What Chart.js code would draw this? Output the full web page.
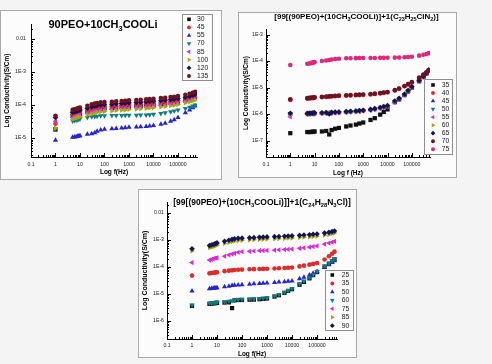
<!DOCTYPE html>
<html><head><meta charset="utf-8">
<script src="https://cdn.jsdelivr.net/npm/chart.js@4.4.1/dist/chart.umd.min.js"></script>
<style>
html,body{margin:0;padding:0;}
body{width:492px;height:364px;overflow:hidden;background:#f4f4f4;position:relative;}
.panel{position:absolute;box-sizing:border-box;border:1px solid #a9a9a9;background:#fcfcfc;}
canvas{position:absolute;}
</style></head><body>
<div class="panel" style="left:0px;top:10px;width:222px;height:170px"></div>
<div class="panel" style="left:238px;top:12px;width:219px;height:166px"></div>
<div class="panel" style="left:138px;top:189px;width:219px;height:169px"></div>
<canvas id="c1" width="222" height="170" style="left:0px;top:10px;width:222px;height:170px"></canvas>
<canvas id="c2" width="219" height="166" style="left:238px;top:12px;width:219px;height:166px"></canvas>
<canvas id="c3" width="219" height="169" style="left:138px;top:189px;width:219px;height:169px"></canvas>
<script>
// ---------- shared x (frequency, Hz) ----------
const freqHz = [1, 5,6,7,8,9,10, 20,30,40,50,70,100, 200,300,500,700,1000, 2000,3000,5000,7000,10000, 20000,30000,50000,70000,100000, 200000,300000,400000,500000];
const xTickValues = [0.1,1,10,100,1000,10000,100000];
const xTickLabels = ['0.1','1','10','100','1000','10000','100000'];

// ---------- Panel 1: 90PEO+10CH3COOLi ----------
const p1Temps = ['30','45','55','70','85','100','120','135'];
const p1_T30  = [1.8e-5, 4.6e-5,4.8e-5,5.0e-5,5.2e-5,5.3e-5,5.4e-5, 6.1e-5,6.6e-5,7.0e-5,7.3e-5,7.6e-5,7.8e-5, 8.1e-5,8.3e-5,8.5e-5,8.7e-5,8.9e-5, 9.1e-5,9.3e-5,9.6e-5,9.8e-5,1.0e-4, 1.05e-4,1.09e-4,1.14e-4,1.18e-4,1.23e-4, 1.37e-4,1.48e-4,1.58e-4,1.68e-4];
const p1_T45  = [2.7e-5, 5.2e-5,5.5e-5,5.7e-5,5.9e-5,6.0e-5,6.2e-5, 7.0e-5,7.6e-5,8.0e-5,8.4e-5,8.8e-5,9.0e-5, 9.3e-5,9.5e-5,9.8e-5,1.0e-4,1.02e-4, 1.04e-4,1.07e-4,1.1e-4,1.12e-4,1.15e-4, 1.2e-4,1.24e-4,1.3e-4,1.34e-4,1.4e-4, 1.55e-4,1.67e-4,1.78e-4,1.9e-4];
const p1_T55  = [8.5e-6, 1.05e-5,1.07e-5,1.1e-5,1.12e-5,1.14e-5,1.16e-5, 1.3e-5,1.35e-5,1.45e-5,1.6e-5,1.75e-5,1.85e-5, 1.9e-5,1.95e-5,2.0e-5,2.05e-5,2.1e-5, 2.15e-5,2.2e-5,2.25e-5,2.3e-5,2.4e-5, 2.6e-5,2.8e-5,3.2e-5,3.6e-5,4.2e-5, 5.8e-5,7.0e-5,8.2e-5,9.3e-5];
const p1_T70  = [1.9e-5, 3.3e-5,3.4e-5,3.5e-5,3.6e-5,3.7e-5,3.8e-5, 4.2e-5,4.4e-5,4.5e-5,4.6e-5,4.7e-5,4.7e-5, 4.8e-5,4.8e-5,4.8e-5,4.9e-5,4.9e-5, 4.9e-5,5.0e-5,5.0e-5,5.1e-5,5.2e-5, 5.5e-5,5.8e-5,6.2e-5,6.6e-5,7.0e-5, 7.8e-5,8.6e-5,9.3e-5,1.0e-4];
const p1_T85  = [3.2e-5, 4.1e-5,4.3e-5,4.5e-5,4.7e-5,4.8e-5,4.9e-5, 5.6e-5,6.0e-5,6.4e-5,6.7e-5,7.0e-5,7.2e-5, 7.4e-5,7.6e-5,7.8e-5,8.0e-5,8.2e-5, 8.4e-5,8.6e-5,8.8e-5,9.0e-5,9.2e-5, 9.7e-5,1.0e-4,1.05e-4,1.09e-4,1.14e-4, 1.27e-4,1.37e-4,1.46e-4,1.55e-4];
const p1_T100 = [2.0e-5, 3.7e-5,3.9e-5,4.0e-5,4.2e-5,4.3e-5,4.4e-5, 5.0e-5,5.4e-5,5.7e-5,6.0e-5,6.2e-5,6.4e-5, 6.6e-5,6.8e-5,7.0e-5,7.1e-5,7.3e-5, 7.5e-5,7.7e-5,7.9e-5,8.1e-5,8.3e-5, 8.7e-5,9.0e-5,9.5e-5,9.9e-5,1.04e-4, 1.16e-4,1.25e-4,1.34e-4,1.43e-4];
const p1_T120 = [4.2e-5, 6.0e-5,6.3e-5,6.5e-5,6.7e-5,6.9e-5,7.0e-5, 8.0e-5,8.7e-5,9.2e-5,9.6e-5,1.0e-4,1.03e-4, 1.06e-4,1.09e-4,1.12e-4,1.14e-4,1.16e-4, 1.19e-4,1.22e-4,1.25e-4,1.28e-4,1.31e-4, 1.37e-4,1.41e-4,1.47e-4,1.51e-4,1.57e-4, 1.72e-4,1.85e-4,1.98e-4,2.12e-4];
const p1_T135 = [4.7e-5, 7.1e-5,7.4e-5,7.6e-5,7.9e-5,8.1e-5,8.3e-5, 9.5e-5,1.05e-4,1.1e-4,1.15e-4,1.2e-4,1.23e-4, 1.26e-4,1.29e-4,1.32e-4,1.35e-4,1.38e-4, 1.41e-4,1.45e-4,1.48e-4,1.51e-4,1.55e-4, 1.62e-4,1.66e-4,1.74e-4,1.78e-4,1.86e-4, 2.04e-4,2.19e-4,2.34e-4,2.51e-4];
const p1YTickValues = [1e-2,1e-3,1e-4,1e-5];
const p1YTickLabels = ['0.01','1E-3','1E-4','1E-5'];

// ---------- Panel 2: ...+1(C23H25ClN2) ----------
const p2Temps = ['35','40','45','50','55','60','65','70','75'];
const p2_T35 = [1.9e-7, 2.1e-7,2.1e-7,2.1e-7,2.15e-7,2.15e-7,2.2e-7, 2.2e-7,2.3e-7,1.7e-7,2.5e-7,2.8e-7,3.0e-7, 3.4e-7,3.7e-7,4.0e-7,4.4e-7,4.8e-7, 6.0e-7,7.0e-7,9.5e-7,1.2e-6,1.5e-6, 2.8e-6,3.6e-6,5.2e-6,7.2e-6,1.0e-5, 1.75e-5,2.5e-5,3.4e-5,4.4e-5];
const p2_T40 = [3.4e-6, 3.8e-6,3.9e-6,4.0e-6,4.0e-6,4.1e-6,4.1e-6, 4.3e-6,4.4e-6,4.5e-6,4.6e-6,4.7e-6,4.8e-6, 4.9e-6,5.0e-6,5.1e-6,5.2e-6,5.3e-6, 5.5e-6,5.7e-6,6.0e-6,6.3e-6,6.6e-6, 7.8e-6,9.0e-6,1.12e-5,1.32e-5,1.55e-5, 2.3e-5,3.0e-5,3.7e-5,4.4e-5];
const p2_T45 = [1.0e-6, 1.03e-6,1.04e-6,1.05e-6,1.06e-6,1.06e-6,1.07e-6, 1.08e-6,1.1e-6,1.1e-6,1.12e-6,1.14e-6,1.16e-6, 1.2e-6,1.23e-6,1.27e-6,1.3e-6,1.35e-6, 1.45e-6,1.55e-6,1.7e-6,1.85e-6,2.0e-6, 3.0e-6,3.8e-6,5.5e-6,7.5e-6,1.05e-5, 1.8e-5,2.6e-5,3.5e-5,4.5e-5];
const p2_T50 = [1.05e-6, 1.0e-6,1.02e-6,1.03e-6,1.04e-6,1.05e-6,1.06e-6, 1.07e-6,1.08e-6,1.09e-6,1.1e-6,1.12e-6,1.14e-6, 1.18e-6,1.21e-6,1.25e-6,1.28e-6,1.32e-6, 1.42e-6,1.52e-6,1.66e-6,1.8e-6,1.96e-6, 2.9e-6,3.7e-6,5.3e-6,7.3e-6,1.02e-5, 1.75e-5,2.55e-5,3.45e-5,4.4e-5];
const p2_T55 = [7.8e-7, 9.8e-7,1.0e-6,1.01e-6,1.02e-6,1.03e-6,1.04e-6, 1.05e-6,1.07e-6,1.08e-6,1.09e-6,1.11e-6,1.13e-6, 1.17e-6,1.2e-6,1.24e-6,1.27e-6,1.31e-6, 1.4e-6,1.5e-6,1.64e-6,1.78e-6,1.94e-6, 2.85e-6,3.65e-6,5.2e-6,7.2e-6,1.0e-5, 1.72e-5,2.5e-5,3.4e-5,4.35e-5];
const p2_T60 = [9.5e-7, 1.01e-6,1.02e-6,1.03e-6,1.05e-6,1.06e-6,1.07e-6, 1.09e-6,1.11e-6,1.12e-6,1.13e-6,1.15e-6,1.17e-6, 1.21e-6,1.24e-6,1.28e-6,1.31e-6,1.36e-6, 1.46e-6,1.56e-6,1.72e-6,1.87e-6,2.02e-6, 3.0e-6,3.8e-6,5.5e-6,7.6e-6,1.06e-5, 1.8e-5,2.6e-5,3.5e-5,4.5e-5];
const p2_T65 = [1.08e-6, 1.06e-6,1.07e-6,1.08e-6,1.09e-6,1.1e-6,1.11e-6, 1.12e-6,1.14e-6,1.0e-6,1.16e-6,1.18e-6,1.2e-6, 1.24e-6,1.27e-6,1.31e-6,1.35e-6,1.4e-6, 1.5e-6,1.6e-6,1.76e-6,1.92e-6,2.08e-6, 3.1e-6,3.9e-6,5.6e-6,7.7e-6,1.08e-5, 1.85e-5,2.65e-5,3.55e-5,4.6e-5];
const p2_T70 = [3.6e-6, 4.0e-6,4.1e-6,4.1e-6,4.2e-6,4.2e-6,4.3e-6, 4.5e-6,4.6e-6,4.7e-6,4.8e-6,4.9e-6,5.0e-6, 5.1e-6,5.2e-6,5.3e-6,5.4e-6,5.5e-6, 5.7e-6,5.9e-6,6.2e-6,6.5e-6,6.8e-6, 8.0e-6,9.2e-6,1.15e-5,1.35e-5,1.6e-5, 2.4e-5,3.1e-5,3.8e-5,4.6e-5];
const p2_T75 = [7.1e-5, 7.9e-5,8.1e-5,8.3e-5,8.7e-5,8.9e-5,9.1e-5, 1.0e-4,1.05e-4,1.1e-4,1.15e-4,1.2e-4,1.23e-4, 1.27e-4,1.28e-4,1.29e-4,1.3e-4,1.3e-4, 1.31e-4,1.31e-4,1.32e-4,1.32e-4,1.33e-4, 1.35e-4,1.37e-4,1.4e-4,1.43e-4,1.46e-4, 1.6e-4,1.72e-4,1.85e-4,2.0e-4];
const p2YTickValues = [1e-3,1e-4,1e-5,1e-6,1e-7];
const p2YTickLabels = ['1E-3','1E-4','1E-5','1E-6','1E-7'];

// ---------- Panel 3: ...+1(C24H28N3Cl) ----------
const p3Temps = ['25','35','50','60','75','85','90'];
const p3_T25 = [3.6e-6, 4.3e-6,4.4e-6,4.5e-6,4.6e-6,4.6e-6,4.7e-6, 4.8e-6,4.9e-6,3.0e-6,5.8e-6,6.0e-6,6.0e-6, 6.1e-6,6.2e-6,6.4e-6,6.6e-6,6.8e-6, 8.0e-6,9.0e-6,1.1e-5,1.3e-5,1.5e-5, 2.2e-5,2.8e-5,3.8e-5,5.0e-5,6.5e-5, 1.0e-4,1.3e-4,1.6e-4,1.9e-4];
const p3_T35 = [4.8e-5, 5.8e-5,6.0e-5,6.1e-5,6.2e-5,6.3e-5,6.4e-5, 7.0e-5,7.3e-5,7.5e-5,7.7e-5,7.9e-5,8.0e-5, 8.2e-5,8.3e-5,8.4e-5,8.5e-5,8.6e-5, 8.8e-5,9.0e-5,9.2e-5,9.4e-5,9.6e-5, 1.05e-4,1.12e-4,1.22e-4,1.3e-4,1.4e-4, 1.9e-4,2.5e-4,3.1e-4,3.7e-4];
const p3_T50 = [1.3e-5, 1.55e-5,1.6e-5,1.62e-5,1.65e-5,1.67e-5,1.7e-5, 1.85e-5,1.95e-5,2.05e-5,2.1e-5,2.15e-5,2.2e-5, 2.3e-5,2.4e-5,2.45e-5,2.5e-5,2.55e-5, 2.65e-5,2.75e-5,2.85e-5,2.95e-5,3.05e-5, 3.7e-5,4.2e-5,5.0e-5,5.8e-5,6.8e-5, 9.5e-5,1.2e-4,1.45e-4,1.7e-4];
const p3_T60 = [3.9e-6, 4.5e-6,4.6e-6,4.7e-6,4.8e-6,4.9e-6,5.0e-6, 5.2e-6,5.4e-6,5.6e-6,5.9e-6,6.2e-6,6.4e-6, 6.5e-6,6.6e-6,6.8e-6,7.0e-6,7.2e-6, 8.5e-6,9.5e-6,1.15e-5,1.35e-5,1.6e-5, 2.4e-5,3.0e-5,4.0e-5,5.3e-5,6.8e-5, 1.1e-4,1.4e-4,1.7e-4,2.0e-4];
const p3_T75 = [1.45e-4, 1.8e-4,1.9e-4,2.0e-4,2.1e-4,2.15e-4,2.2e-4, 2.5e-4,2.8e-4,3.0e-4,3.2e-4,3.5e-4,3.7e-4, 3.8e-4,3.9e-4,4.0e-4,4.05e-4,4.1e-4, 4.2e-4,4.3e-4,4.4e-4,4.5e-4,4.6e-4, 4.9e-4,5.1e-4,5.4e-4,5.7e-4,6.0e-4, 7.0e-4,7.7e-4,8.3e-4,8.9e-4];
const p3_T85 = [3.9e-4, 5.2e-4,5.4e-4,5.7e-4,5.9e-4,6.2e-4,6.5e-4, 7.4e-4,8.1e-4,8.7e-4,9.1e-4,9.5e-4,9.7e-4, 1.0e-3,1.02e-3,1.04e-3,1.06e-3,1.08e-3, 1.1e-3,1.12e-3,1.14e-3,1.16e-3,1.18e-3, 1.23e-3,1.26e-3,1.3e-3,1.34e-3,1.38e-3, 1.5e-3,1.6e-3,1.7e-3,1.8e-3];
const p3_T90 = [4.7e-4, 6.2e-4,6.5e-4,6.8e-4,7.1e-4,7.4e-4,7.8e-4, 8.9e-4,9.8e-4,1.05e-3,1.1e-3,1.15e-3,1.17e-3, 1.2e-3,1.22e-3,1.25e-3,1.28e-3,1.3e-3, 1.33e-3,1.35e-3,1.38e-3,1.4e-3,1.42e-3, 1.48e-3,1.52e-3,1.57e-3,1.62e-3,1.66e-3, 1.8e-3,1.92e-3,2.03e-3,2.14e-3];
const p3YTickValues = [1e-2,1e-3,1e-4,1e-5,1e-6];
const p3YTickLabels = ['0.01','1E-3','1E-4','1E-5','1E-6'];

// ---------- styles ----------
const FAM = '"Liberation Sans", Arial, Helvetica, sans-serif';
Chart.defaults.font.family = FAM;
const STY = {
  black:   {c:'#111111', s:'rect',     r:0,   rad:3.0},
  red:     {c:'#e12a2a', s:'circle',   r:0,   rad:2.3},
  blue:    {c:'#2424d6', s:'triangle', r:0,   rad:3.0},
  teal:    {c:'#0d7d80', s:'triangle', r:180, rad:3.0},
  magenta: {c:'#dc2ad6', s:'triangle', r:-90, rad:3.0},
  olive:   {c:'#a6a418', s:'triangle', r:90,  rad:3.0},
  navy:    {c:'#14144e', s:'rectRot',  r:0,   rad:2.8},
  wine:    {c:'#6c1222', s:'circle',   r:0,   rad:2.3},
  pink:    {c:'#e0287a', s:'circle',   r:0,   rad:2.3}
};

function drawRich(ctx, segs, cx, cy, size) {
  const main = 'bold ' + size + 'px ' + FAM;
  const sub = 'bold ' + (size * 0.68).toFixed(2) + 'px ' + FAM;
  let w = 0;
  segs.forEach(s => { ctx.font = s[1] ? sub : main; w += ctx.measureText(s[0]).width; });
  let x = cx - w / 2;
  ctx.fillStyle = '#000'; ctx.textBaseline = 'middle'; ctx.textAlign = 'left';
  segs.forEach(s => {
    ctx.font = s[1] ? sub : main;
    ctx.fillText(s[0], x, cy + (s[1] ? size * 0.32 : 0));
    x += ctx.measureText(s[0]).width;
  });
}

function marker(ctx, st, x, y) {
  ctx.fillStyle = st.c; ctx.strokeStyle = st.c;
  if (Chart.helpers && Chart.helpers.drawPoint) {
    Chart.helpers.drawPoint(ctx, {pointStyle: st.s, rotation: st.r, radius: st.rad * 0.85, borderWidth: 0}, x, y);
  } else {
    ctx.beginPath(); ctx.arc(x, y, 2, 0, Math.PI * 2); ctx.fill();
  }
}

function decor(o) {
  return {
    id: 'decor',
    afterDraw(chart) {
      const ctx = chart.ctx, xs = chart.scales.x, ys = chart.scales.y, ca = chart.chartArea;
      ctx.save();
      ctx.strokeStyle = '#000'; ctx.lineWidth = 1;
      [[xs, true], [ys, false]].forEach(([sc, isX]) => {
        const lo = Math.floor(Math.log10(sc.min)), hi = Math.ceil(Math.log10(sc.max));
        for (let e = lo; e <= hi; e++) {
          for (let k = 1; k <= 9; k++) {
            const v = k * Math.pow(10, e);
            if (v < sc.min * 0.9999 || v > sc.max * 1.0001) continue;
            const p = Math.round(sc.getPixelForValue(v)) + 0.5;
            const len = k === 1 ? 4 : 2;
            ctx.beginPath();
            if (isX) { ctx.moveTo(p, ca.bottom); ctx.lineTo(p, ca.bottom - len); }
            else { ctx.moveTo(ca.left, p); ctx.lineTo(ca.left + len, p); }
            ctx.stroke();
          }
        }
      });
      drawRich(ctx, o.title, o.titleX, o.titleY, o.titleSize);
      const L = o.legend;
      ctx.fillStyle = '#fcfcfc'; ctx.fillRect(L.x, L.y, L.w, L.h);
      ctx.strokeStyle = '#8f8f8f'; ctx.lineWidth = 1;
      ctx.strokeRect(L.x + 0.5, L.y + 0.5, L.w, L.h);
      o.labels.forEach((lab, i) => {
        const st = STY[o.styles[i]];
        const y = L.y0 + i * L.dy;
        marker(ctx, st, L.mx, y);
        ctx.fillStyle = '#222'; ctx.font = '6.8px ' + FAM;
        ctx.textAlign = 'left'; ctx.textBaseline = 'middle';
        ctx.fillText(lab, L.tx, y);
      });
      ctx.restore();
    }
  };
}

function build(o) {
  const n = o.series.length;
  const datasets = o.series.map((vals, i) => {
    const st = STY[o.styles[i]];
    return {
      label: o.labels[i],
      data: freqHz.map((f, j) => ({x: f, y: vals[j]})),
      pointStyle: st.s, pointRotation: st.r, pointRadius: st.rad,
      pointBackgroundColor: st.c, pointBorderColor: st.c, pointBorderWidth: 0,
      backgroundColor: st.c, borderColor: st.c, showLine: false, order: n - i
    };
  });
  new Chart(document.getElementById(o.id), {
    type: 'scatter',
    data: {datasets},
    plugins: [decor(o)],
    options: {
      responsive: false, animation: false, events: [], devicePixelRatio: 1,
      layout: {padding: {top: o.padTop, right: o.padRight, left: 0, bottom: 0}},
      plugins: {legend: {display: false}, tooltip: {enabled: false}, title: {display: false}},
      scales: {
        x: {
          type: 'logarithmic', position: 'bottom', min: o.xMin, max: o.xMax, bounds: 'data',
          grid: {display: false, drawTicks: false},
          border: {display: true, color: '#000', width: 1},
          ticks: {autoSkip: false, maxRotation: 0, minRotation: 0, padding: o.xTickPad,
                  font: {size: 5.2}, color: '#222', callback: (v, i) => xTickLabels[i]},
          afterBuildTicks: s => { s.ticks = xTickValues.map(v => ({value: v})); },
          afterFit: s => { s.height = o.xH; },
          title: {display: true, text: o.xTitle, color: '#000',
                  font: {size: 6.5, weight: 'bold'}, padding: {top: 0, bottom: o.xTitlePad}}
        },
        y: {
          type: 'logarithmic', position: 'left', min: o.yMin, max: o.yMax, bounds: 'data',
          grid: {display: false, drawTicks: false},
          border: {display: true, color: '#000', width: 1},
          ticks: {autoSkip: false, padding: o.yTickPad, font: {size: 5.2}, color: '#222',
                  callback: (v, i) => o.yLabels[i]},
          afterBuildTicks: s => { s.ticks = o.yVals.map(v => ({value: v})); },
          afterFit: s => { s.width = o.yW; },
          title: {display: true, text: 'Log Conductivity(S/Cm)', color: '#000',
                  font: {size: o.yTitleSize, weight: 'bold'}, padding: {top: o.yTitlePad, bottom: 0}}
        }
      }
    }
  });
}

build({
  id: 'c1', labels: p1Temps,
  series: [p1_T30, p1_T45, p1_T55, p1_T70, p1_T85, p1_T100, p1_T120, p1_T135],
  styles: ['black','red','blue','teal','magenta','olive','navy','wine'],
  padTop: 14, padRight: 25, yW: 31, xH: 23,
  xMin: 0.1, xMax: 5.97e5, yMin: 2.655e-6, yMax: 2.85e-2,
  yVals: p1YTickValues, yLabels: p1YTickLabels,
  xTickPad: 4, yTickPad: 5, xTitlePad: 4.1, yTitlePad: 3.1, yTitleSize: 6.5, xTitle: 'Log f(Hz)',
  title: [['90PEO+10CH'], ['3', 1], ['COOLi']], titleX: 103, titleY: 15, titleSize: 11,
  legend: {x: 182, y: 4, w: 30, h: 66, y0: 9.3, dy: 8.1, mx: 189, tx: 197}
});
build({
  id: 'c2', labels: p2Temps,
  series: [p2_T35, p2_T40, p2_T45, p2_T50, p2_T55, p2_T60, p2_T65, p2_T70, p2_T75],
  styles: ['black','red','blue','teal','magenta','olive','navy','wine','pink'],
  padTop: 17, padRight: 27, yW: 28, xH: 21,
  xMin: 0.1, xMax: 5.6e5, yMin: 2.4e-8, yMax: 1.62e-3,
  yVals: p2YTickValues, yLabels: p2YTickLabels,
  xTickPad: 4, yTickPad: 3, xTitlePad: 1.1, yTitlePad: 4, yTitleSize: 6.5, xTitle: 'Log f (Hz)',
  title: [['[99[(90PEO)+(10CH'], ['3', 1], ['COOLi)]+1(C'], ['23', 1], ['H'], ['25', 1], ['ClN'], ['2', 1], [')]']],
  titleX: 118.5, titleY: 4.5, titleSize: 8,
  legend: {x: 186, y: 67, w: 28, h: 75, y0: 73, dy: 8.04, mx: 195, tx: 203.7}
});
build({
  id: 'c3', labels: p3Temps,
  series: [p3_T25, p3_T35, p3_T50, p3_T60, p3_T75, p3_T85, p3_T90],
  styles: ['black','red','blue','teal','magenta','olive','navy'],
  padTop: 13, padRight: 20, yW: 29, xH: 19,
  xMin: 0.1, xMax: 6.3e5, yMin: 2.15e-7, yMax: 2.55e-2,
  yVals: p3YTickValues, yLabels: p3YTickLabels,
  xTickPad: 3, yTickPad: 3, xTitlePad: 0.2, yTitlePad: 2.8, yTitleSize: 7, xTitle: 'Log f(Hz)',
  title: [['[99[(90PEO)+(10CH'], ['3', 1], ['COOLi)]]+1(C'], ['24', 1], ['H'], ['28', 1], ['N'], ['3', 1], ['Cl)]']],
  titleX: 124, titleY: 14, titleSize: 8.5,
  legend: {x: 187, y: 81, w: 28, h: 60, y0: 86, dy: 8.45, mx: 194.3, tx: 203.7}
});
</script>
</body></html>
